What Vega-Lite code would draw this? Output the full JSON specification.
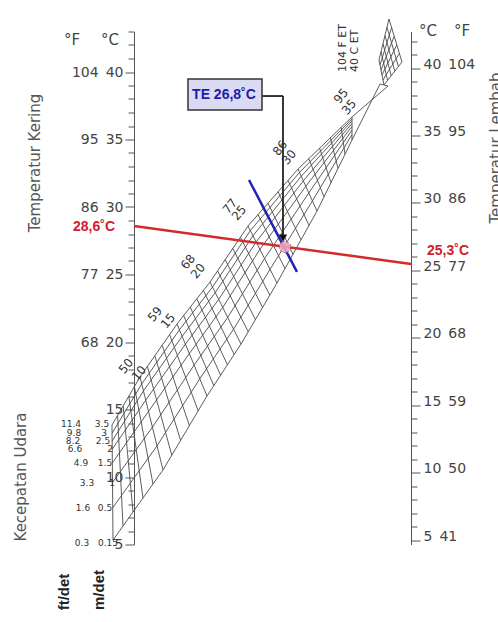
{
"$schema": "https://vega.github.io/schema/vega-lite/v6.json",
"autosize": "none",
"width": 277,
"height": 513,
"padding": {"left": 134, "top": 31.5, "right": 87, "bottom": 77.5},
"background": "white",
"config": {"view": {"stroke": null}, "font": "DejaVu Sans"},
"datasets": {
"et": [
{"e":5,"tx":-7.94,"ty":13.85,"bx":-7.58,"by":5.33},
{"e":6,"tx":-5.92,"ty":14.56,"bx":-3.97,"by":6.37},
{"e":7,"tx":-3.90,"ty":15.27,"bx":-0.36,"by":7.41},
{"e":8,"tx":-1.88,"ty":15.99,"bx":3.25,"by":8.44},
{"e":9,"tx":0.14,"ty":16.70,"bx":6.86,"by":9.48},
{"e":10,"tx":2.17,"ty":17.41,"bx":10.47,"by":10.52},
{"e":11,"tx":4.84,"ty":18.19,"bx":13.65,"by":11.61},
{"e":12,"tx":7.51,"ty":18.98,"bx":16.82,"by":12.71},
{"e":13,"tx":10.18,"ty":19.76,"bx":20.0,"by":13.81},
{"e":14,"tx":12.85,"ty":20.55,"bx":23.18,"by":14.90},
{"e":15,"tx":15.52,"ty":21.33,"bx":26.35,"by":16.0},
{"e":16,"tx":17.91,"ty":21.96,"bx":28.81,"by":16.77},
{"e":17,"tx":20.29,"ty":22.58,"bx":31.26,"by":17.54},
{"e":18,"tx":22.67,"ty":23.20,"bx":33.72,"by":18.31},
{"e":19,"tx":25.05,"ty":23.82,"bx":36.17,"by":19.08},
{"e":20,"tx":27.44,"ty":24.44,"bx":38.63,"by":19.85},
{"e":21,"tx":30.18,"ty":25.27,"bx":41.23,"by":20.76},
{"e":22,"tx":32.92,"ty":26.10,"bx":43.83,"by":21.66},
{"e":23,"tx":35.67,"ty":26.93,"bx":46.43,"by":22.56},
{"e":24,"tx":38.41,"ty":27.76,"bx":49.03,"by":23.47},
{"e":25,"tx":41.16,"ty":28.59,"bx":51.62,"by":24.37},
{"e":26,"tx":44.77,"ty":29.44,"bx":54.51,"by":25.44},
{"e":27,"tx":48.38,"ty":30.28,"bx":57.40,"by":26.50},
{"e":28,"tx":51.99,"ty":31.13,"bx":60.29,"by":27.57},
{"e":29,"tx":55.60,"ty":31.97,"bx":63.18,"by":28.64},
{"e":30,"tx":59.21,"ty":32.81,"bx":66.06,"by":29.70},
{"e":31,"tx":63.10,"ty":33.59,"bx":68.59,"by":30.76},
{"e":32,"tx":67.00,"ty":34.36,"bx":71.12,"by":31.81},
{"e":33,"tx":70.90,"ty":35.13,"bx":73.65,"by":32.86},
{"e":34,"tx":74.80,"ty":35.90,"bx":76.17,"by":33.91},
{"e":35,"tx":78.70,"ty":36.67,"bx":78.70,"by":34.96}
],
"vel": [
{"v":0.1,"e":5,"x":-7.58,"y":5.33},{"v":0.1,"e":10,"x":10.47,"y":10.52},{"v":0.1,"e":15,"x":26.35,"y":16.0},{"v":0.1,"e":20,"x":38.63,"y":19.85},{"v":0.1,"e":25,"x":51.62,"y":24.37},{"v":0.1,"e":30,"x":66.06,"y":29.70},{"v":0.1,"e":35,"x":78.70,"y":34.96},
{"v":0.5,"e":5,"x":-7.68,"y":7.72},{"v":0.5,"e":10,"x":8.31,"y":12.31},{"v":0.5,"e":15,"x":23.75,"y":17.28},{"v":0.5,"e":20,"x":35.94,"y":20.95},{"v":0.5,"e":25,"x":49.11,"y":25.38},{"v":0.5,"e":30,"x":64.42,"y":30.45},{"v":0.5,"e":35,"x":78.70,"y":35.37},
{"v":1,"e":5,"x":-7.76,"y":9.59},{"v":1,"e":10,"x":6.65,"y":13.69},{"v":1,"e":15,"x":21.69,"y":18.29},{"v":1,"e":20,"x":33.82,"y":21.82},{"v":1,"e":25,"x":47.12,"y":26.18},{"v":1,"e":30,"x":63.11,"y":31.04},{"v":1,"e":35,"x":78.70,"y":35.70},
{"v":1.5,"e":5,"x":-7.82,"y":11.04},{"v":1.5,"e":10,"x":5.24,"y":14.86},{"v":1.5,"e":15,"x":19.96,"y":19.14},{"v":1.5,"e":20,"x":32.03,"y":22.56},{"v":1.5,"e":25,"x":45.45,"y":26.86},{"v":1.5,"e":30,"x":62.02,"y":31.53},{"v":1.5,"e":35,"x":78.70,"y":35.97},
{"v":2,"e":5,"x":-7.86,"y":12.06},{"v":2,"e":10,"x":4.24,"y":15.69},{"v":2,"e":15,"x":18.55,"y":19.84},{"v":2,"e":20,"x":30.57,"y":23.15},{"v":2,"e":25,"x":44.09,"y":27.41},{"v":2,"e":30,"x":61.13,"y":31.94},{"v":2,"e":35,"x":78.70,"y":36.19},
{"v":2.5,"e":5,"x":-7.89,"y":12.66},{"v":2.5,"e":10,"x":3.41,"y":16.38},{"v":2.5,"e":15,"x":17.36,"y":20.42},{"v":2.5,"e":20,"x":29.34,"y":23.66},{"v":2.5,"e":25,"x":42.94,"y":27.87},{"v":2.5,"e":30,"x":60.37,"y":32.28},{"v":2.5,"e":35,"x":78.70,"y":36.38},
{"v":3,"e":5,"x":-7.91,"y":13.25},{"v":3,"e":10,"x":2.79,"y":16.89},{"v":3,"e":15,"x":16.39,"y":20.90},{"v":3,"e":20,"x":28.34,"y":24.07},{"v":3,"e":25,"x":42.0,"y":28.25},{"v":3,"e":30,"x":59.76,"y":32.56},{"v":3,"e":35,"x":78.70,"y":36.53},
{"v":3.5,"e":5,"x":-7.94,"y":13.85},{"v":3.5,"e":10,"x":2.17,"y":17.41},{"v":3.5,"e":15,"x":15.52,"y":21.33},{"v":3.5,"e":20,"x":27.44,"y":24.44},{"v":3.5,"e":25,"x":41.16,"y":28.59},{"v":3.5,"e":30,"x":59.21,"y":32.81},{"v":3.5,"e":35,"x":78.70,"y":36.67}
],
"top": [
{"x":78.70,"y":36.67,"x2":91.70,"y2":38.96},
{"x":78.70,"y":34.96,"x2":88.81,"y2":39.11},
{"x":88.81,"y":39.11,"x2":91.70,"y2":38.96},
{"x":90.25,"y":39.04,"x2":96.75,"y2":40.74},
{"x":96.75,"y":40.74,"x2":92.06,"y2":43.93},
{"x":92.06,"y":43.93,"x2":88.45,"y2":40.89},
{"x":88.45,"y":40.89,"x2":90.25,"y2":39.04},
{"x":89.89,"y":39.41,"x2":95.81,"y2":41.38},
{"x":89.53,"y":39.78,"x2":94.87,"y2":42.01},
{"x":89.17,"y":40.15,"x2":93.94,"y2":42.65},
{"x":88.81,"y":40.52,"x2":93.00,"y2":43.29},
{"x":91.55,"y":39.38,"x2":89.17,"y2":41.50},
{"x":92.85,"y":39.72,"x2":89.89,"y2":42.10},
{"x":94.15,"y":40.06,"x2":90.61,"y2":42.71},
{"x":95.45,"y":40.40,"x2":91.34,"y2":43.32}
],
"lines": [
{"k":"red","x":0,"y":28.59,"x2":100,"y2":25.78},
{"k":"blue","x":41.52,"y":32.0,"x2":58.84,"y2":25.19},
{"k":"arrow","x":46.21,"y":38.22,"x2":53.79,"y2":38.22},
{"k":"arrow","x":53.79,"y":38.22,"x2":53.79,"y2":27.85}
],
"pts": [
{"k":"head","x":53.79,"y":27.70},
{"k":"hit","x":54.51,"y":27.04}
],
"box": [{"x":19.49,"x2":46.21,"y":37.19,"y2":39.48}],
"labels": [
{"g":"title","t":"Temperatur Kering","x":-35.74,"y":33.26},
{"g":"title","t":"Kecepatan Udara","x":-40.79,"y":10.0},
{"g":"title","t":"Temperatur Lembab","x":130.69,"y":34.37},
{"g":"unit","t":"ft/det","x":-25.27,"y":1.48},
{"g":"unit","t":"m/det","x":-12.64,"y":1.63},
{"g":"hdr","t":"°F","x":-22.38,"y":42.37},
{"g":"hdr","t":"°C","x":-8.66,"y":42.37},
{"g":"hdr","t":"°C","x":106.14,"y":43.04},
{"g":"hdr","t":"°F","x":118.41,"y":43.04},
{"g":"vel","t":"11.4","x":-22.74,"y":13.93},
{"g":"vel","t":"3.5","x":-11.55,"y":13.93},
{"g":"vel","t":"9.8","x":-21.66,"y":13.26},
{"g":"vel","t":"3","x":-10.83,"y":13.26},
{"g":"vel","t":"8.2","x":-22.02,"y":12.67},
{"g":"vel","t":"2.5","x":-11.19,"y":12.67},
{"g":"vel","t":"6.6","x":-21.30,"y":12.07},
{"g":"vel","t":"2","x":-8.66,"y":12.07},
{"g":"vel","t":"4.9","x":-19.13,"y":11.04},
{"g":"vel","t":"1.5","x":-10.47,"y":11.04},
{"g":"vel","t":"3.3","x":-16.97,"y":9.56},
{"g":"vel","t":"1","x":-7.94,"y":9.56},
{"g":"vel","t":"1.6","x":-18.41,"y":7.70},
{"g":"vel","t":"0.5","x":-10.47,"y":7.70},
{"g":"vel","t":"0.3","x":-18.77,"y":5.11},
{"g":"vel","t":"0.15","x":-9.39,"y":5.11},
{"g":"et","t":"50","x":-2.89,"y":18.22},
{"g":"et","t":"10","x":1.81,"y":17.70},
{"g":"et","t":"59","x":7.58,"y":22.07},
{"g":"et","t":"15","x":12.27,"y":21.56},
{"g":"et","t":"68","x":19.49,"y":25.93},
{"g":"et","t":"20","x":23.10,"y":25.26},
{"g":"et","t":"77","x":34.66,"y":30.07},
{"g":"et","t":"25","x":37.91,"y":29.56},
{"g":"et","t":"86","x":52.71,"y":34.37},
{"g":"et","t":"30","x":55.96,"y":33.70},
{"g":"et","t":"95","x":74.73,"y":38.22},
{"g":"et","t":"35","x":77.62,"y":37.41},
{"g":"etTop","t":"104 F  ET","x":75.45,"y":40.0},
{"g":"etTop","t":"40 C   ET","x":79.78,"y":40.0},
{"g":"red","t":"28,6˚C","x":-14.44,"y":28.52},
{"g":"red","t":"25,3˚C","x":113.36,"y":26.74},
{"g":"te","t":"TE 26,8˚C","x":32.49,"y":38.30}
]
},
"layer": [
{
"data": {"values": [{"x": 0, "c": 20}]},
"mark": {"type": "point", "opacity": 0},
"encoding": {
"x": {"field": "x", "type": "quantitative", "scale": {"domain": [0, 100], "nice": false, "zero": false}, "axis": null},
"y": {"field": "c", "type": "quantitative", "scale": {"domain": [5, 43], "nice": false, "zero": false},
"axis": {"orient": "left", "title": null, "grid": false, "values": [5,6,7,8,9,10,11,12,13,14,15,16,17,18,19,20,21,22,23,24,25,26,27,28,29,30,31,32,33,34,35,36,37,38,39,40,41,42,43],
"domainColor": "#555", "tickColor": "#555", "domainWidth": 1, "tickWidth": 1,
"tickSize": {"condition": {"test": "datum.value % 5 === 0", "value": 9}, "value": 6},
"labelExpr": "datum.value % 5 === 0 ? (datum.value >= 20 ? format(datum.value*9/5+32,'d') + '\u2002' + datum.value : '' + datum.value) : ''",
"labelFont": "DejaVu Sans", "labelFontSize": 14, "labelColor": "#444", "labelPadding": 2, "labelOverlap": false, "labelBound": false, "labelFlush": false}}
}
},
{
"data": {"name": "et"},
"mark": {"type": "rule", "color": "#4a4a4a", "strokeWidth": 0.9},
"encoding": {
"x": {"field": "tx", "type": "quantitative", "scale": {"domain": [0, 100], "nice": false, "zero": false}, "axis": null},
"y": {"field": "ty", "type": "quantitative", "scale": {"domain": [5, 43], "nice": false, "zero": false}, "axis": null},
"x2": {"field": "bx"},
"y2": {"field": "by"}
}
},
{
"data": {"name": "vel"},
"mark": {"type": "line", "color": "#4a4a4a", "strokeWidth": 0.9},
"encoding": {
"x": {"field": "x", "type": "quantitative", "scale": {"domain": [0, 100], "nice": false, "zero": false}, "axis": null},
"y": {"field": "y", "type": "quantitative", "scale": {"domain": [5, 43], "nice": false, "zero": false}, "axis": null},
"detail": {"field": "v", "type": "nominal"},
"order": {"field": "e", "type": "quantitative"}
}
},
{
"data": {"name": "top"},
"mark": {"type": "rule", "color": "#4a4a4a", "strokeWidth": 0.9},
"encoding": {
"x": {"field": "x", "type": "quantitative", "scale": {"domain": [0, 100], "nice": false, "zero": false}, "axis": null},
"y": {"field": "y", "type": "quantitative", "scale": {"domain": [5, 43], "nice": false, "zero": false}, "axis": null},
"x2": {"field": "x2"},
"y2": {"field": "y2"}
}
},
{
"data": {"name": "lines"},
"transform": [{"filter": "datum.k === 'red'"}],
"mark": {"type": "rule", "color": "#d42a2a", "strokeWidth": 2.5},
"encoding": {
"x": {"field": "x", "type": "quantitative", "scale": {"domain": [0, 100], "nice": false, "zero": false}, "axis": null},
"y": {"field": "y", "type": "quantitative", "scale": {"domain": [5, 43], "nice": false, "zero": false}, "axis": null},
"x2": {"field": "x2"},
"y2": {"field": "y2"}
}
},
{
"data": {"name": "lines"},
"transform": [{"filter": "datum.k === 'blue'"}],
"mark": {"type": "rule", "color": "#1f24b0", "strokeWidth": 2.5},
"encoding": {
"x": {"field": "x", "type": "quantitative", "scale": {"domain": [0, 100], "nice": false, "zero": false}, "axis": null},
"y": {"field": "y", "type": "quantitative", "scale": {"domain": [5, 43], "nice": false, "zero": false}, "axis": null},
"x2": {"field": "x2"},
"y2": {"field": "y2"}
}
},
{
"data": {"name": "pts"},
"transform": [{"filter": "datum.k === 'hit'"}],
"mark": {"type": "point", "shape": "circle", "filled": true, "color": "#f2a9c0", "opacity": 0.85, "size": 130, "stroke": "#a04a6a", "strokeWidth": 1, "strokeDash": [2, 2]},
"encoding": {
"x": {"field": "x", "type": "quantitative", "scale": {"domain": [0, 100], "nice": false, "zero": false}, "axis": null},
"y": {"field": "y", "type": "quantitative", "scale": {"domain": [5, 43], "nice": false, "zero": false}, "axis": null}
}
},
{
"data": {"name": "lines"},
"transform": [{"filter": "datum.k === 'arrow'"}],
"mark": {"type": "rule", "color": "#222", "strokeWidth": 1.8},
"encoding": {
"x": {"field": "x", "type": "quantitative", "scale": {"domain": [0, 100], "nice": false, "zero": false}, "axis": null},
"y": {"field": "y", "type": "quantitative", "scale": {"domain": [5, 43], "nice": false, "zero": false}, "axis": null},
"x2": {"field": "x2"},
"y2": {"field": "y2"}
}
},
{
"data": {"name": "pts"},
"transform": [{"filter": "datum.k === 'head'"}],
"mark": {"type": "point", "shape": "triangle-down", "filled": true, "color": "#111", "opacity": 1, "size": 70},
"encoding": {
"x": {"field": "x", "type": "quantitative", "scale": {"domain": [0, 100], "nice": false, "zero": false}, "axis": null},
"y": {"field": "y", "type": "quantitative", "scale": {"domain": [5, 43], "nice": false, "zero": false}, "axis": null}
}
},
{
"data": {"name": "box"},
"mark": {"type": "rect", "fill": "#dadaf3", "stroke": "#333", "strokeWidth": 1.5},
"encoding": {
"x": {"field": "x", "type": "quantitative", "scale": {"domain": [0, 100], "nice": false, "zero": false}, "axis": null},
"y": {"field": "y", "type": "quantitative", "scale": {"domain": [5, 43], "nice": false, "zero": false}, "axis": null},
"x2": {"field": "x2"},
"y2": {"field": "y2"}
}
},
{
"data": {"name": "labels"},
"transform": [{"filter": "datum.g === 'title'"}],
"mark": {"type": "text", "angle": 270, "align": "center", "baseline": "middle", "font": "DejaVu Sans", "fontSize": 15, "color": "#555"},
"encoding": {
"x": {"field": "x", "type": "quantitative", "scale": {"domain": [0, 100], "nice": false, "zero": false}, "axis": null},
"y": {"field": "y", "type": "quantitative", "scale": {"domain": [5, 43], "nice": false, "zero": false}, "axis": null},
"text": {"field": "t"}
}
},
{
"data": {"name": "labels"},
"transform": [{"filter": "datum.g === 'unit'"}],
"mark": {"type": "text", "angle": 270, "align": "center", "baseline": "middle", "font": "Liberation Sans", "fontWeight": "bold", "fontSize": 15, "color": "#222"},
"encoding": {
"x": {"field": "x", "type": "quantitative", "scale": {"domain": [0, 100], "nice": false, "zero": false}, "axis": null},
"y": {"field": "y", "type": "quantitative", "scale": {"domain": [5, 43], "nice": false, "zero": false}, "axis": null},
"text": {"field": "t"}
}
},
{
"data": {"name": "labels"},
"transform": [{"filter": "datum.g === 'hdr'"}],
"mark": {"type": "text", "align": "center", "baseline": "middle", "font": "DejaVu Sans", "fontSize": 15, "color": "#444"},
"encoding": {
"x": {"field": "x", "type": "quantitative", "scale": {"domain": [0, 100], "nice": false, "zero": false}, "axis": null},
"y": {"field": "y", "type": "quantitative", "scale": {"domain": [5, 43], "nice": false, "zero": false}, "axis": null},
"text": {"field": "t"}
}
},
{
"data": {"name": "labels"},
"transform": [{"filter": "datum.g === 'vel'"}],
"mark": {"type": "text", "align": "center", "baseline": "middle", "font": "DejaVu Sans", "fontSize": 9, "color": "#333"},
"encoding": {
"x": {"field": "x", "type": "quantitative", "scale": {"domain": [0, 100], "nice": false, "zero": false}, "axis": null},
"y": {"field": "y", "type": "quantitative", "scale": {"domain": [5, 43], "nice": false, "zero": false}, "axis": null},
"text": {"field": "t"}
}
},
{
"data": {"name": "labels"},
"transform": [{"filter": "datum.g === 'et'"}],
"mark": {"type": "text", "angle": 310, "align": "center", "baseline": "middle", "font": "DejaVu Sans", "fontSize": 12, "color": "#333"},
"encoding": {
"x": {"field": "x", "type": "quantitative", "scale": {"domain": [0, 100], "nice": false, "zero": false}, "axis": null},
"y": {"field": "y", "type": "quantitative", "scale": {"domain": [5, 43], "nice": false, "zero": false}, "axis": null},
"text": {"field": "t"}
}
},
{
"data": {"name": "labels"},
"transform": [{"filter": "datum.g === 'etTop'"}],
"mark": {"type": "text", "angle": 270, "align": "left", "baseline": "middle", "font": "DejaVu Sans", "fontSize": 11, "color": "#333"},
"encoding": {
"x": {"field": "x", "type": "quantitative", "scale": {"domain": [0, 100], "nice": false, "zero": false}, "axis": null},
"y": {"field": "y", "type": "quantitative", "scale": {"domain": [5, 43], "nice": false, "zero": false}, "axis": null},
"text": {"field": "t"}
}
},
{
"data": {"name": "labels"},
"transform": [{"filter": "datum.g === 'red'"}],
"mark": {"type": "text", "align": "center", "baseline": "middle", "font": "Liberation Sans", "fontWeight": "bold", "fontSize": 14, "color": "#d0202c"},
"encoding": {
"x": {"field": "x", "type": "quantitative", "scale": {"domain": [0, 100], "nice": false, "zero": false}, "axis": null},
"y": {"field": "y", "type": "quantitative", "scale": {"domain": [5, 43], "nice": false, "zero": false}, "axis": null},
"text": {"field": "t"}
}
},
{
"data": {"name": "labels"},
"transform": [{"filter": "datum.g === 'te'"}],
"mark": {"type": "text", "align": "center", "baseline": "middle", "font": "Liberation Sans", "fontWeight": "bold", "fontSize": 14, "color": "#1c1caa"},
"encoding": {
"x": {"field": "x", "type": "quantitative", "scale": {"domain": [0, 100], "nice": false, "zero": false}, "axis": null},
"y": {"field": "y", "type": "quantitative", "scale": {"domain": [5, 43], "nice": false, "zero": false}, "axis": null},
"text": {"field": "t"}
}
},
{
"data": {"values": [{"x": 100, "w": 25.3}]},
"mark": {"type": "point", "opacity": 0},
"encoding": {
"x": {"field": "x", "type": "quantitative", "scale": {"domain": [0, 100], "nice": false, "zero": false}, "axis": null},
"y": {"field": "w", "type": "quantitative", "scale": {"domain": [4.67, 42.71], "nice": false, "zero": false},
"axis": {"orient": "right", "title": null, "grid": false, "values": [5,6,7,8,9,10,11,12,13,14,15,16,17,18,19,20,21,22,23,24,25,26,27,28,29,30,31,32,33,34,35,36,37,38,39,40,41,42],
"domainColor": "#555", "tickColor": "#555", "domainWidth": 1, "tickWidth": 1,
"tickSize": {"condition": {"test": "datum.value % 5 === 0", "value": 9}, "value": 6},
"labelExpr": "datum.value % 5 === 0 ? datum.value + '\u2002' + format(datum.value*9/5+32,'d') : ''",
"labelFont": "DejaVu Sans", "labelFontSize": 14, "labelColor": "#444", "labelPadding": 3, "labelOffset": -4, "labelOverlap": false, "labelBound": false, "labelFlush": false}}
}
}
],
"resolve": {"scale": {"y": "independent"}, "axis": {"y": "independent"}}
}
